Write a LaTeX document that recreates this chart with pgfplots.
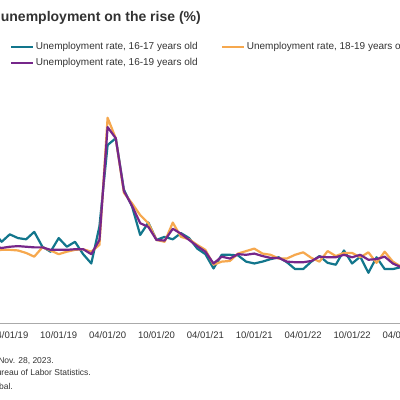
\documentclass[border=0pt]{standalone}
\usepackage{fontspec}
\setmainfont{Liberation Sans}
\usepackage{pgfplots}
\usepackage{pgfplotstable}
\pgfplotsset{compat=1.18}
\definecolor{spteal}{RGB}{18,118,140}
\definecolor{sporange}{RGB}{246,168,78}
\definecolor{sppurple}{RGB}{118,38,138}
\definecolor{txtgray}{RGB}{51,51,51}
\definecolor{axisgray}{RGB}{170,170,170}

% month index: 0 = Apr 2019
\pgfplotstableread{
m   r1617 r1819 r1619
-2  14.7  11.6  12.4
-1  13.1  11.8  12.1
0   14.3  11.8  12.3
1   13.7  11.7  12.4
2   13.5  11.3  12.3
3   14.7  10.7  12.2
4   12.3  12.2  12.2
5   11.5  11.7  11.8
6   13.7  11.1  11.8
7   12.3  11.5  11.8
8   13.1  11.8  11.9
9   11.1  11.9  11.9
10  9.6   11.5  11.1
11  15.6  12.6  13.4
12  28.7  33.1  31.6
13  29.8  29.8  29.8
14  21.5  21.0  21.3
15  18.8  19.3  18.9
16  14.2  17.4  16.1
17  16.2  16.1  15.5
18  13.4  13.4  13.4
19  13.9  13.1  13.3
20  13.5  16.2  15.2
21  14.5  13.9  14.4
22  13.7  13.5  13.4
23  12.0  12.6  12.4
24  11.1  11.8  11.5
25  8.8   9.4   9.6
26  11.0  9.9   10.7
27  11.0  10.0  10.4
28  10.9  11.2  11.1
29  9.9   11.6  11.0
30  9.6   12.0  11.2
31  9.9   11.2  10.8
32  10.3  11.0  10.5
33  10.6  10.4  10.5
34  9.8   10.4  9.9
35  8.7   11.0  9.8
36  8.7   11.4  9.8
37  9.9   10.5  10.0
38  10.8  9.9   10.7
39  9.7   11.6  10.6
40  9.4   10.8  10.6
41  11.7  11.3  11.0
42  9.6   11.3  10.6
43  10.7  10.6  11.0
44  8.1   11.4  10.2
45  10.6  9.7   10.3
46  8.7   11.5  10.7
47  8.7   9.9   9.6
48  9.0   9.1   9.0
49  9.0   9.0   9.0
}\rates

\begin{document}
\begin{tikzpicture}
\useasboundingbox (0,0) rectangle (400pt,400pt);
\clip (0,0) rectangle (400pt,400pt);
\fill[white] (0,0) rectangle (400pt,400pt);
\node[anchor=base east, inner sep=0pt, text=txtgray,
  font=\bfseries\fontsize{14}{16}\selectfont] at (201pt,378pt)
  {Teen unemployment on the rise (\%)};
\begin{axis}[
  scale only axis, width=456.4pt, height=217pt,
  at={(-22.8pt,77pt)}, anchor=south west,
  xmin=-4, xmax=52, ymin=0, ymax=35,
  axis x line*=bottom, axis y line=none,
  x axis line style={draw=axisgray, line width=0.8pt},
  ytick=\empty,
  xtick={-6,0,6,12,18,24,30,36,42,48},
  xticklabels={10/01/18,04/01/19,10/01/19,04/01/20,10/01/20,04/01/21,10/01/21,04/01/22,10/01/22,04/01/23},
  major tick length=0pt,
  xticklabel style={font=\fontsize{9.5}{11}\selectfont, text=txtgray, yshift=-5pt},
  legend columns=2,
  legend cell align=left,
  legend style={at={(axis description cs:0.0719,1.30)}, anchor=north west,
    draw=none, fill=none, inner sep=0pt, row sep=4pt,
    font=\fontsize{10}{12}\selectfont, text=txtgray,
    nodes={inner sep=1.5pt},
    /tikz/every even column/.append style={column sep=22pt}},
  legend image code/.code={\draw[#1] (0pt,0pt) -- (22pt,0pt);},
  every axis plot/.append style={line width=2.2pt, line join=round},
]
\addplot[spteal] table[x=m, y=r1617] {\rates};
\addplot[sporange] table[x=m, y=r1819] {\rates};
\addplot[sppurple] table[x=m, y=r1619] {\rates};
\legend{{Unemployment rate, 16-17 years old},{Unemployment rate, 18-19 years old},{Unemployment rate, 16-19 years old}}
\end{axis}
\node[anchor=base east, inner sep=0pt, text=txtgray, font=\fontsize{8.5}{10}\selectfont]
  at (54pt,37pt) {Data as of Nov. 28, 2023.};
\node[anchor=base east, inner sep=0pt, text=txtgray, font=\fontsize{8.5}{10}\selectfont]
  at (91pt,24pt) {Source: U.S. Bureau of Labor Statistics.};
\node[anchor=base east, inner sep=0pt, text=txtgray, font=\fontsize{8.5}{10}\selectfont]
  at (13pt,11pt) {\textcopyright{} 2023 S\&P Global.};
\end{tikzpicture}
\end{document}
